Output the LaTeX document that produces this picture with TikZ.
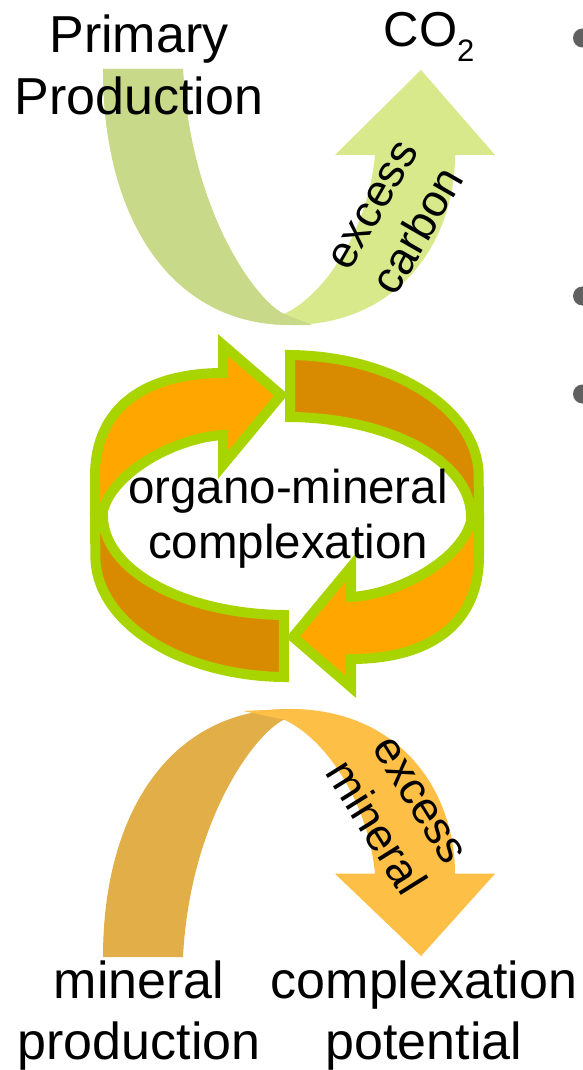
\documentclass[tikz,border=0pt]{standalone}
\usepackage{fontspec}
\setmainfont{Liberation Sans}
\definecolor{gDark}{RGB}{200,217,137}
\definecolor{gLight}{RGB}{215,233,138}
\definecolor{yDark}{RGB}{226,174,72}
\definecolor{yLight}{RGB}{253,191,70}
\definecolor{rGreen}{RGB}{168,212,0}
\definecolor{rOrange}{RGB}{255,166,0}
\definecolor{rDark}{RGB}{217,139,0}
\definecolor{dotGray}{RGB}{96,96,96}
\begin{document}
\begin{tikzpicture}[x=1pt,y=-1pt,line join=miter,
  ring/.style={draw=rGreen,line width=10pt},
  big/.style={font=\fontsize{52}{62}\selectfont,inner sep=0pt,anchor=base},
  mid/.style={font=\fontsize{47.5}{55}\selectfont,inner sep=0pt,anchor=base},
  rot/.style={font=\fontsize{45}{53}\selectfont,inner sep=0pt,align=center}]
\useasboundingbox (0,0) rectangle (583,1070);

% top U arrow
\path[fill=gLight] (103,69) .. controls (103,220) and (172,325) .. (290,325)
  .. controls (400,325) and (455,240) .. (455,155) -- (495,155) -- (421,70) -- (335,155) -- (375,155)
  .. controls (368,230) and (325,295) .. (284,314)
  .. controls (255,300) and (190,210) .. (183,69) -- cycle;
\path[fill=gDark] (103,69) .. controls (103,220) and (172,325) .. (290,325) -- (312,325) -- (284,314)
  .. controls (255,300) and (190,210) .. (183,69) -- cycle;

% bottom arch arrow
\begin{scope}[shift={(0,1023.9)},yscale=-0.969]
\path[fill=yDark] (103,69) .. controls (103,220) and (172,325) .. (290,325) -- (284,314)
  .. controls (255,300) and (190,210) .. (183,69) -- cycle;
\path[fill=yLight] (243,323) -- (290,325)
  .. controls (400,325) and (455,240) .. (455,155) -- (495,155) -- (421,70) -- (335,155) -- (375,155)
  .. controls (368,230) and (325,295) .. (284,314) -- cycle;
\end{scope}

% cycle, upper half
\begin{scope}[shift={(287,516)},yscale=-1]
\path[ring,fill=rOrange] (-192,0) -- (-192,40) .. controls (-192,110) and (-140,143) .. (-64,143)
  -- (-64,171) -- (-6,121) -- (-64,51) -- (-64,81)
  .. controls (-115,78) and (-180,40) .. (-185,0) -- cycle;
\path[ring,fill=rDark] (3,161) arc[start angle=89,end angle=0,x radius=192,y radius=121]
  -- (192,0) -- (184,0) arc[start angle=0,end angle=89,x radius=184,y radius=99] -- cycle;
\end{scope}
% cycle, lower half
\begin{scope}[shift={(287,516)},xscale=-1]
\path[ring,fill=rOrange] (-192,0) -- (-192,40) .. controls (-192,110) and (-140,143) .. (-64,143)
  -- (-64,171) -- (-6,121) -- (-64,51) -- (-64,81)
  .. controls (-115,78) and (-180,40) .. (-185,0) -- cycle;
\path[ring,fill=rDark] (3,161) arc[start angle=89,end angle=0,x radius=192,y radius=121]
  -- (192,0) -- (184,0) arc[start angle=0,end angle=89,x radius=184,y radius=99] -- cycle;
\end{scope}

% bullets at right edge
\begin{scope}
\clip (0,0) rectangle (583,1070);
\fill[dotGray] (582.5,38) circle[radius=9.5];
\fill[dotGray] (582.5,296) circle[radius=9.5];
\fill[dotGray] (582.5,394) circle[radius=9.5];
\end{scope}

% texts
\node[big] (pp1) at (139,53) {Primary};
\node[big] (pp2) at (139,115) {Production};
\node[inner sep=0pt,anchor=base,font=\fontsize{49}{55}\selectfont] (co2) at (429,47)
  {CO{\fontsize{31}{31}\selectfont\raisebox{-15pt}{2}}};
\node[rot,rotate=60] (exc) at (397,219) {excess\\carbon};
\node[mid] (om1) at (288,503) {organo-mineral};
\node[mid] (om2) at (288,558) {complexation};
\node[rot,rotate=-58] (exm) at (396,815) {excess\\mineral};
\node[big] (mp1) at (139,998) {mineral};
\node[big] (mp2) at (139,1059) {production};
\node[big] (cp1) at (424,998) {complexation};
\node[big] (cp2) at (424,1059) {potential};
\end{tikzpicture}
\end{document}
